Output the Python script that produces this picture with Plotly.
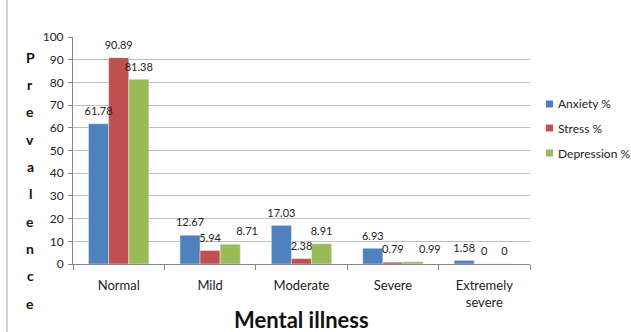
import plotly.graph_objects as go

categories = ["Normal", "Mild", "Moderate", "Severe", "Extremely<br>severe"]
anxiety = [61.78, 12.67, 17.03, 6.93, 1.58]
stress = [90.89, 5.94, 2.38, 0.79, 0]
depression = [81.38, 8.71, 8.91, 0.99, 0]
series_names = ["Anxiety %", "Stress %", "Depression %"]
colors = ["#4F81BD", "#C0504D", "#9BBB59"]
label_pos = [
    ["top center"] * 5,
    ["top center"] * 5,
    ["top center", "top right", "top center", "top right", "top center"],
]
y_title = "Prevalence"
x_title = "Mental illness"

W, H = 631, 332
ml, mr, mt, mb = 73, 101, 37, 68
pw, ph = W - ml - mr, H - mt - mb

fig = go.Figure()
for i, (name, vals, c) in enumerate(zip(series_names, [anxiety, stress, depression], colors)):
    fig.add_trace(go.Bar(
        x=categories, y=vals, name=name, marker_color=c, showlegend=False,
        offsetgroup=str(i), cliponaxis=False,
    ))
for i, (name, vals, c) in enumerate(zip(series_names, [anxiety, stress, depression], colors)):
    fig.add_trace(go.Scatter(
        x=categories, y=vals, mode="markers+text", text=[f"{v:g}" for v in vals],
        textposition=label_pos[i], textfont=dict(size=11, color="#222"),
        marker=dict(size=8, color="rgba(0,0,0,0)"),
        offsetgroup=str(i), showlegend=False, cliponaxis=False, hoverinfo="skip",
    ))

fig.update_layout(
    width=W, height=H, margin=dict(l=ml, r=mr, t=mt, b=mb, autoexpand=False),
    paper_bgcolor="white", plot_bgcolor="white",
    font=dict(family="Lato", size=12, color="#222"),
    barmode="group", bargap=0.34, bargroupgap=0,
    scattermode="group", scattergap=0.34,
    showlegend=False,
)
fig.update_yaxes(range=[0, 100], dtick=10, showgrid=True, gridcolor="#BFBFBF",
                 showline=True, linecolor="#868686", ticks="outside", ticklen=4,
                 tickcolor="#868686", tickfont=dict(size=12), zeroline=False,
                 ticklabelstandoff=2)
fig.update_xaxes(showline=True, linecolor="#868686", ticks="outside", ticklen=5,
                 tickcolor="#868686", tickson="boundaries", tickfont=dict(size=13),
                 ticklabelstandoff=9)

# manual legend (squares + labels)
leg_y = [104, 128, 153]
for name, c, ypx in zip(series_names, colors, leg_y):
    yp = (H - ypx - mb) / ph
    fig.add_shape(type="rect", xref="paper", yref="paper",
                  x0=(546 - ml) / pw, x1=(553 - ml) / pw,
                  y0=yp - 3.5 / ph, y1=yp + 3.5 / ph,
                  fillcolor=c, line=dict(width=0))
    fig.add_annotation(text=name, xref="paper", yref="paper",
                       x=(556 - ml) / pw, y=yp, xanchor="left", yanchor="middle",
                       showarrow=False, font=dict(size=12, color="#222"))

# x-axis title
fig.add_annotation(text=f"<b>{x_title}</b>", xref="paper", yref="paper",
                   x=0.5, y=(H - 319 - mb) / ph, xanchor="center", yanchor="middle",
                   showarrow=False, font=dict(size=22, color="#111"))
# vertical stacked y title
top, bottom = 57, 303
n = len(y_title)
for i, ch in enumerate(y_title):
    ypx = top + (bottom - top) * i / (n - 1)
    fig.add_annotation(text=f"<b>{ch}</b>", xref="paper", yref="paper",
                       x=(30 - ml) / pw, y=(H - ypx - mb) / ph,
                       xanchor="center", yanchor="middle", showarrow=False,
                       font=dict(size=14, color="#111"))
# left border line
fig.add_shape(type="line", xref="paper", yref="paper",
              x0=(7 - ml) / pw, x1=(7 - ml) / pw, y0=-mb / ph, y1=(H - mb) / ph,
              line=dict(color="#A0A0A0", width=1))

fig.write_html("out.html")
